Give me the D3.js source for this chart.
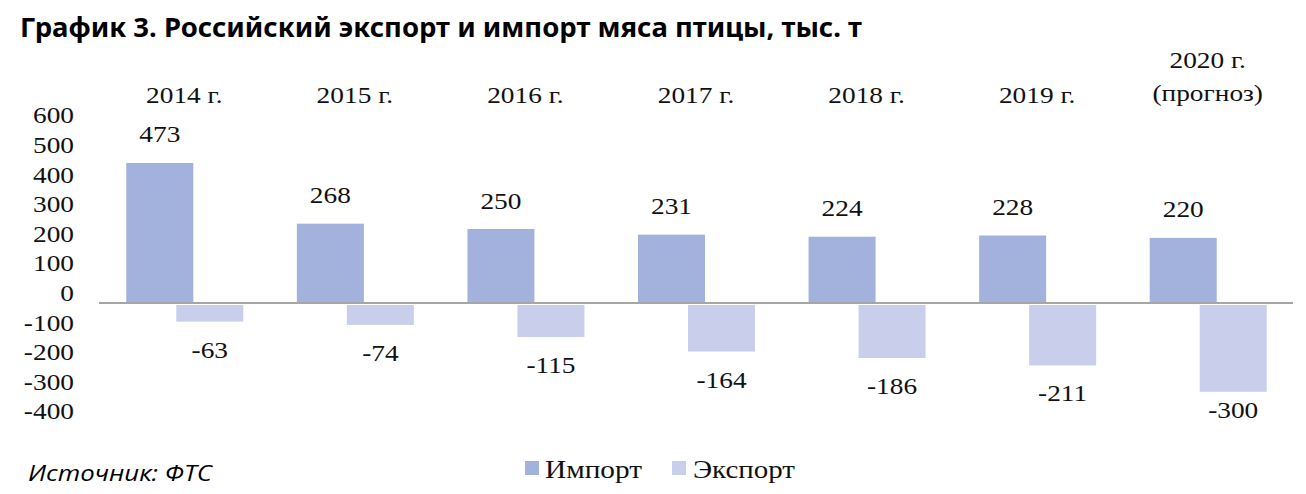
<!DOCTYPE html>
<html><head><meta charset="utf-8">
<script src="https://cdn.jsdelivr.net/npm/d3@7"></script>
<style>body{margin:0;background:#fff}svg{display:block}</style>
</head><body>
<svg id="chart" width="1306" height="494"></svg>
<script>
const categories = [["2014 г."],["2015 г."],["2016 г."],["2017 г."],["2018 г."],["2019 г."],["2020 г.","(прогноз)"]];
const importValues = [473,268,250,231,224,228,220];
const exportValues = [-63,-74,-115,-164,-186,-211,-300];
const yTicks = [600,500,400,300,200,100,0,-100,-200,-300,-400];
const seriesNames = ["Импорт","Экспорт"];

const colors = {imp:"#a2b2dc", exp:"#c9cfea", axis:"#a6a6a6", text:"#111"};
const serif = "'Liberation Serif','Times New Roman',serif";
const SX = 1.14; // horizontal stretch of the reference text
const FS = 24;

const svg = d3.select("#chart");
const x = d3.scaleBand().domain(d3.range(categories.length)).range([99,1293]).padding(0);
const y = d3.scaleLinear().domain([-400,600]).range([421.4,125.4]);

function stretchText(g, tx, ty, str, opts){
  return g.append("text")
    .attr("transform",`translate(${tx},${ty}) scale(${SX},1)`)
    .attr("text-anchor", opts.anchor||"middle")
    .style("font-family", serif).style("font-size",(opts.size||FS)+"px")
    .attr("fill", colors.text).text(str);
}

// title
svg.append("text").attr("x",20).attr("y",37)
  .attr("textLength",842).attr("lengthAdjust","spacingAndGlyphs")
  .style("font-family","'Noto Sans','Open Sans',sans-serif").style("font-weight","bold").style("font-size","26px")
  .attr("fill","#000").text("График 3. Российский экспорт и импорт мяса птицы, тыс. т");

// y tick labels
const gy = svg.append("g");
yTicks.forEach(t => stretchText(gy, 74, y(t)-2, String(t), {anchor:"end"}));

// category labels (top)
const gc = svg.append("g");
categories.forEach((lines,i) => {
  const cx = x(i) + x.bandwidth()/2;
  if (lines.length === 1) stretchText(gc, cx, 103, lines[0], {});
  else { stretchText(gc, cx, 68, lines[0], {}); stretchText(gc, cx, 101, lines[1], {}); }
});

// bars
const bw = 67;
const impOff = x.bandwidth()/2 - 58, expOff = x.bandwidth()/2 - 8;
svg.append("g").selectAll("rect").data(importValues).join("rect")
  .attr("x",(d,i)=>x(i)+impOff).attr("width",bw)
  .attr("y",d=>y(d)).attr("height",d=>y(0)-y(d)).attr("fill",colors.imp);
svg.append("g").selectAll("rect").data(exportValues).join("rect")
  .attr("x",(d,i)=>x(i)+expOff).attr("width",bw)
  .attr("y",y(0)+2).attr("height",d=>y(d)-y(0)-2).attr("fill",colors.exp);

// zero line
svg.append("line").attr("x1",x.range()[0]).attr("x2",x.range()[1])
  .attr("y1",y(0)).attr("y2",y(0)).attr("stroke",colors.axis).attr("stroke-width",2.2);

// value labels
const gl = svg.append("g");
importValues.forEach((v,i)=> stretchText(gl, x(i)+impOff+bw/2, y(v)-20.5, String(v), {}));
exportValues.forEach((v,i)=> stretchText(gl, x(i)+expOff+bw/2, Math.min(y(v)+36, 418), String(v), {}));

// legend
const gleg = svg.append("g");
gleg.append("rect").attr("x",525).attr("y",461).attr("width",14).attr("height",14).attr("fill",colors.imp);
gleg.append("text").attr("x",545).attr("y",478).attr("textLength",97).attr("lengthAdjust","spacingAndGlyphs")
  .style("font-family",serif).style("font-size","26px").attr("fill",colors.text).text(seriesNames[0]);
gleg.append("rect").attr("x",672).attr("y",461).attr("width",14).attr("height",14).attr("fill",colors.exp);
gleg.append("text").attr("x",693).attr("y",478).attr("textLength",102).attr("lengthAdjust","spacingAndGlyphs")
  .style("font-family",serif).style("font-size","26px").attr("fill",colors.text).text(seriesNames[1]);

// source
svg.append("text").attr("x",28).attr("y",481).attr("textLength",184).attr("lengthAdjust","spacingAndGlyphs")
  .style("font-family","'Open Sans','Noto Sans',sans-serif").style("font-style","italic").style("font-size","22px")
  .attr("fill","#000").text("Источник: ФТС");
</script>
</body></html>
